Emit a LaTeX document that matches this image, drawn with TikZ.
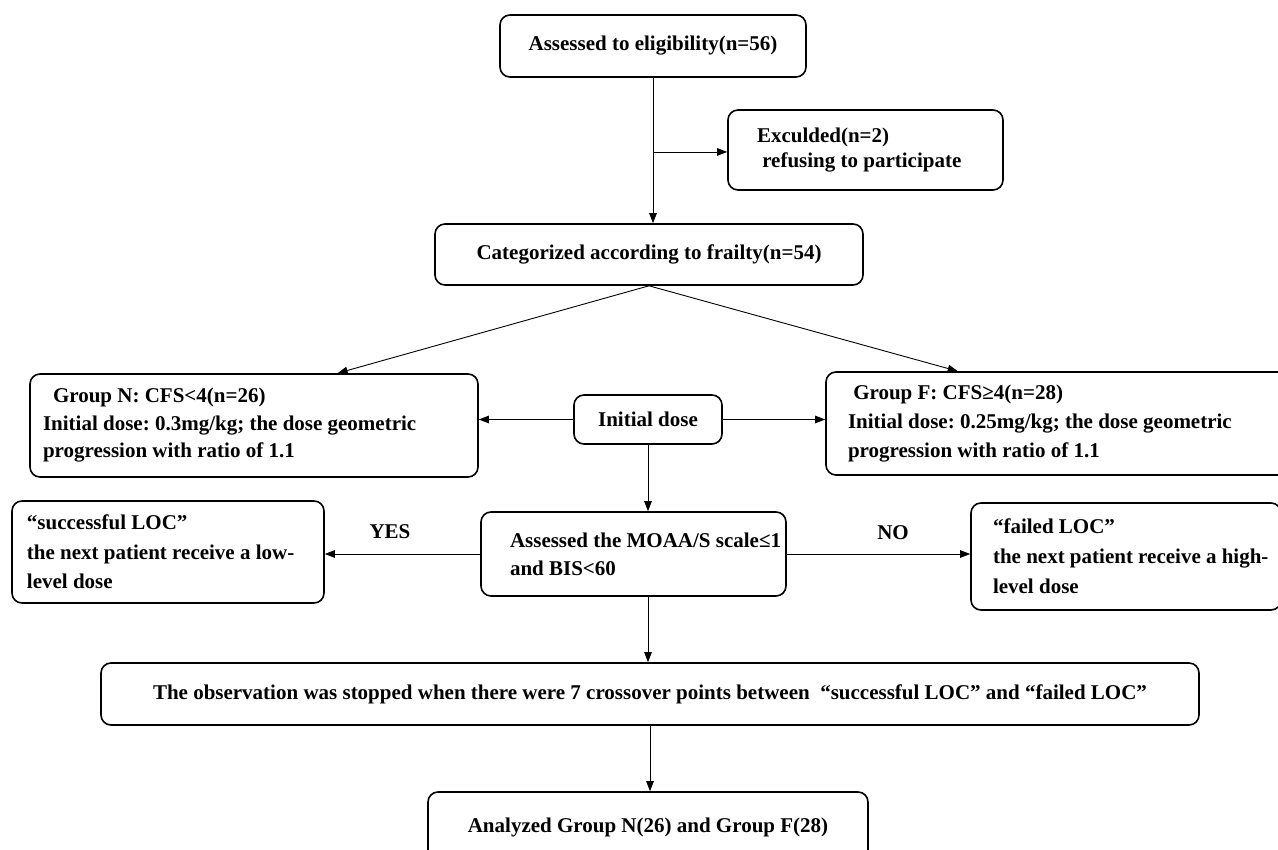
\documentclass[tikz,border=0pt]{standalone}
\usepackage{fontspec}
\setmainfont{Liberation Serif}
\usetikzlibrary{arrows.meta,calc}
\newcommand{\ml}[1]{\mbox{#1}}
\begin{document}
\frenchspacing
\begin{tikzpicture}[x=1pt,y=-1pt,
  box/.style={draw, line width=1.6pt, rounded corners=10pt, font=\fontsize{21}{28}\selectfont\bfseries, inner sep=0pt},
  arr/.style={line width=0.9pt, -{Triangle[length=10pt,width=7.5pt]}},
  lbl/.style={font=\fontsize{21}{24}\selectfont\bfseries, inner sep=0pt}]
\clip (0,0) rectangle (1278,850);
\useasboundingbox (0,0) rectangle (1278,850);
% boxes
\node[box, minimum width=306pt, minimum height=62pt] (top) at (653,46) {Assessed to eligibility(n=56)};
\node[box, minimum width=275pt, minimum height=80pt, text width=217pt, align=flush left, font=\fontsize{21}{25}\selectfont\bfseries] (exc) at (865.5,150) {\ml{Exculded(n=2)}\\\ml{\ refusing to participate}};
\node[box, minimum width=428pt, minimum height=61pt] (cat) at (649,254.5) {Categorized according to frailty(n=54)};
\node[box, minimum width=448pt, minimum height=103pt, text width=422pt, align=flush left, font=\fontsize{21}{27.5}\selectfont\bfseries] (gn) at (254,425.5) {\ml{\hspace*{10pt}Group N: CFS<4(n=26)}\\\ml{Initial dose: 0.3mg/kg; the dose geometric}\\\ml{progression with ratio of 1.1}};
\node[box, minimum width=148pt, minimum height=49pt] (ini) at (648,419.5) {Initial dose};
\node[box, minimum width=470pt, minimum height=103pt, text width=426pt, align=flush left, font=\fontsize{21}{29}\selectfont\bfseries] (gf) at (1061,423.5) {\ml{\ Group F: CFS≥4(n=28)}\\\ml{Initial dose: 0.25mg/kg; the dose geometric}\\\ml{progression with ratio of 1.1}};
\node[box, minimum width=312pt, minimum height=102pt, text width=282pt, align=flush left, font=\fontsize{21}{29.5}\selectfont\bfseries] (succ) at (168,552) {\ml{“successful LOC”}\\\ml{the next patient receive a low-}\\\ml{level dose}};
\node[box, minimum width=305pt, minimum height=84pt, text width=247pt, align=flush left] (asm) at (633.5,554) {\ml{Assessed the MOAA/S scale≤1}\\\ml{and BIS<60}};
\node[box, minimum width=310pt, minimum height=107pt, text width=266pt, align=flush left, font=\fontsize{21}{30}\selectfont\bfseries] (fail) at (1126,556.5) {\ml{“failed LOC”}\\\ml{the next patient receive a high-}\\\ml{level dose}};
\node[box, minimum width=1098pt, minimum height=62pt] (obs) at (650,694) {The observation was stopped when there were 7 crossover points between\ \ “successful LOC” and “failed LOC”};
\node[box, minimum width=440pt, minimum height=70pt] (ana) at (648,827) {Analyzed Group N(26) and Group F(28)};
% connectors
\draw[arr] (top.south) -- (top.south |- cat.north);
\coordinate (br) at ($(top.south)!0.51!(top.south |- cat.north)$);
\draw[arr] (br) -- (br -| exc.west);
\draw[arr] (cat.south) -- ($(gn.north west)!0.686!(gn.north east)$);
\draw[arr] (cat.south) -- ($(gf.north west)!0.281!(gf.north east)$);
\draw[arr] (ini.west) -- (ini.west -| gn.east);
\draw[arr] (ini.east) -- (ini.east -| gf.west);
\draw[arr] (ini.south) -- (ini.south |- asm.north);
\draw[arr] (asm.west) -- (asm.west -| succ.east);
\draw[arr] (asm.east) -- (asm.east -| fail.west);
\draw[arr] (ini.south |- asm.south) -- (ini.south |- obs.north);
\draw[arr] (obs.south) -- (obs.south |- ana.north);
\node[lbl] (yes) at (390,532) {YES};
\node[lbl] (no) at (893,533) {NO};
\end{tikzpicture}
\end{document}
